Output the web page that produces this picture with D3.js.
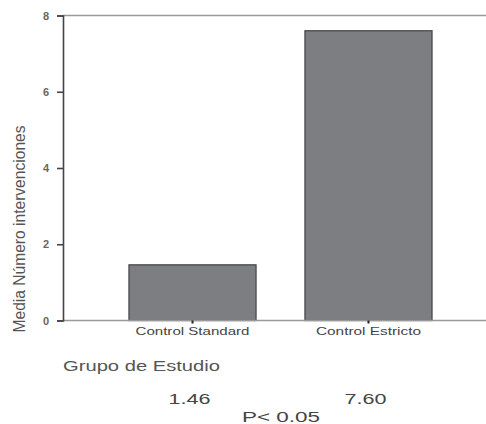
<!DOCTYPE html>
<html><head><meta charset="utf-8">
<script src="https://cdn.jsdelivr.net/npm/d3@7"></script>
<style>body{margin:0;background:#fff;}svg{display:block;}</style>
</head><body><svg id="c" width="486" height="424"></svg>
<script>
const categories = ["Control Standard", "Control Estricto"];
const values = [1.46, 7.60];
const valueLabels = ["1.46", "7.60"];
const yTicks = [0, 2, 4, 6, 8];
const yTitle = "Media Número intervenciones";
const xTitle = "Grupo de Estudio";
const pText = "P< 0.05";

const svg = d3.select("#c");
const font = "Liberation Sans, Arial, sans-serif";
const y = d3.scaleLinear().domain([0, 8]).range([320.5, 15.5]);
const x = d3.scaleBand().domain(categories).range([63, 498]).paddingInner(0.278).paddingOuter(0.375);

// top frame line
svg.append("line").attr("x1", 63).attr("x2", 486).attr("y1", y(8)).attr("y2", y(8))
  .attr("stroke", "#999").attr("stroke-width", 1.5);

// bars
svg.selectAll("rect.bar").data(values).join("rect")
  .attr("x", (d, i) => x(categories[i]))
  .attr("width", x.bandwidth())
  .attr("y", d => y(d))
  .attr("height", d => y(0) - y(d))
  .attr("fill", "#7d7e82").attr("stroke", "#4a4a4c").attr("stroke-width", 1.3);

// x axis line
svg.append("line").attr("x1", 63).attr("x2", 486).attr("y1", y(0)).attr("y2", y(0))
  .attr("stroke", "#999").attr("stroke-width", 1.5);

// y axis
const yAxis = d3.axisLeft(y).tickValues(yTicks).tickSize(6).tickPadding(8).tickFormat(d3.format("d"));
const ga = svg.append("g").attr("transform", "translate(63,0)").call(yAxis);
ga.select(".domain").attr("stroke", "#444").attr("stroke-width", 1.6);
ga.selectAll(".tick line").attr("stroke", "#444").attr("stroke-width", 1.6);
ga.selectAll(".tick text").attr("font-family", font).attr("font-size", 11).attr("font-weight", "bold").attr("fill", "#666");

// x ticks
const xAxis = d3.axisBottom(x).tickSize(3).tickPadding(4);
const gx = svg.append("g").attr("transform", `translate(0,${y(0)})`).call(xAxis);
gx.select(".domain").remove();
gx.selectAll(".tick line").attr("stroke", "#222").attr("stroke-width", 2);
gx.selectAll(".tick text").attr("font-family", font).attr("font-size", 11).attr("fill", "#444")
  .attr("textLength", (d, i) => i === 0 ? 114 : 105).attr("lengthAdjust", "spacingAndGlyphs");

// y title
svg.append("text").attr("transform", "translate(25,229) rotate(-90)")
  .attr("text-anchor", "middle").attr("font-family", font).attr("font-size", 16)
  .attr("textLength", 207).attr("lengthAdjust", "spacingAndGlyphs")
  .attr("fill", "#555").text(yTitle);

// x title
svg.append("text").attr("x", 63).attr("y", 371).attr("font-family", font)
  .attr("font-size", 15).attr("fill", "#555")
  .attr("textLength", 157).attr("lengthAdjust", "spacingAndGlyphs").text(xTitle);

// value labels
svg.selectAll("text.val").data(valueLabels).join("text")
  .attr("x", (d, i) => x(categories[i]) + x.bandwidth() / 2 - 3)
  .attr("y", 404).attr("text-anchor", "middle").attr("font-family", font)
  .attr("font-size", 15).attr("fill", "#444")
  .attr("textLength", 42).attr("lengthAdjust", "spacingAndGlyphs").text(d => d);

svg.append("text").attr("x", 281).attr("y", 422).attr("text-anchor", "middle")
  .attr("font-family", font).attr("font-size", 15.5).attr("fill", "#444")
  .attr("textLength", 78).attr("lengthAdjust", "spacingAndGlyphs").text(pText);
</script></body></html>
